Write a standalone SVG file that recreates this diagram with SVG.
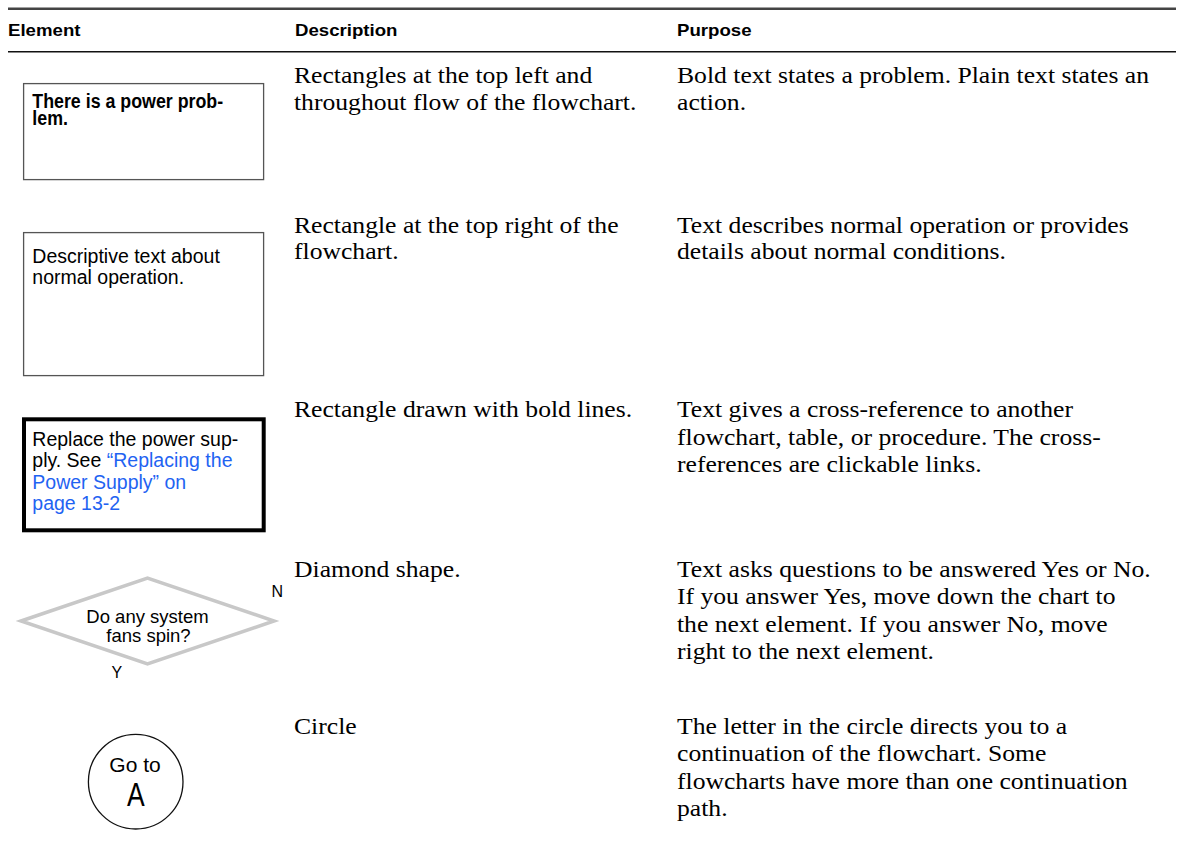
<svg xmlns="http://www.w3.org/2000/svg" width="1180" height="847" viewBox="0 0 1180 847">
<style>
.hd{font-family:"Liberation Sans",Arial,sans-serif;font-weight:bold;font-size:16.5px;fill:#000}
.bd{font-family:"Liberation Serif","Times New Roman",serif;font-size:22.5px;fill:#000}
.bx{font-family:"Liberation Sans",Arial,sans-serif;font-size:19.5px;fill:#000}
.bxb{font-family:"Liberation Sans",Arial,sans-serif;font-size:20px;font-weight:bold;fill:#000}
.lnk{fill:#1f63f2}
.rect{fill:#fff;stroke:#555;stroke-width:1.3}
.mid{text-anchor:middle}
</style>
<rect width="1180" height="847" fill="#fff"/>
<g id="rules">
<line x1="8" y1="8.7" x2="1176" y2="8.7" stroke="#444" stroke-width="2.5"/>
<line x1="8" y1="51.7" x2="1176" y2="51.7" stroke="#111" stroke-width="1.5"/>
</g>
<g id="header">
<text class="hd" transform="translate(8,36) scale(1.13,1)">Element</text>
<text class="hd" transform="translate(295,36) scale(1.13,1)">Description</text>
<text class="hd" transform="translate(677,36) scale(1.13,1)">Purpose</text>
</g>
<g id="row1-text">
<text class="bd" transform="translate(294,83) scale(1.14,1)"><tspan x="0" y="0">Rectangles at the top left and</tspan><tspan x="0" y="27.3">throughout flow of the flowchart.</tspan></text>
<text class="bd" transform="translate(677,83) scale(1.14,1)"><tspan x="0" y="0">Bold text states a problem. Plain text states an</tspan><tspan x="0" y="27.3">action.</tspan></text>
</g>
<g id="row2-text">
<text class="bd" transform="translate(294,232.5) scale(1.14,1)"><tspan x="0" y="0">Rectangle at the top right of the</tspan><tspan x="0" y="27">flowchart.</tspan></text>
<text class="bd" transform="translate(677,232.5) scale(1.14,1)"><tspan x="0" y="0">Text describes normal operation or provides</tspan><tspan x="0" y="27">details about normal conditions.</tspan></text>
</g>
<g id="row3-text">
<text class="bd" transform="translate(294,417) scale(1.14,1)">Rectangle drawn with bold lines.</text>
<text class="bd" transform="translate(677,417) scale(1.14,1)"><tspan x="0" y="0">Text gives a cross-reference to another</tspan><tspan x="0" y="27.6">flowchart, table, or procedure. The cross-</tspan><tspan x="0" y="55.2">references are clickable links.</tspan></text>
</g>
<g id="row4-text">
<text class="bd" transform="translate(294,576.7) scale(1.14,1)">Diamond shape.</text>
<text class="bd" transform="translate(677,576.7) scale(1.14,1)"><tspan x="0" y="0">Text asks questions to be answered Yes or No.</tspan><tspan x="0" y="27.6">If you answer Yes, move down the chart to</tspan><tspan x="0" y="55.2">the next element. If you answer No, move</tspan><tspan x="0" y="82.8">right to the next element.</tspan></text>
</g>
<g id="row5-text">
<text class="bd" transform="translate(294,734) scale(1.14,1)">Circle</text>
<text class="bd" transform="translate(677,734) scale(1.14,1)"><tspan x="0" y="0">The letter in the circle directs you to a</tspan><tspan x="0" y="27.5">continuation of the flowchart. Some</tspan><tspan x="0" y="55">flowcharts have more than one continuation</tspan><tspan x="0" y="82.5">path.</tspan></text>
</g>
<g id="node-problem">
<rect class="rect" x="23.6" y="83.6" width="240" height="96"/>
<text class="bxb" transform="translate(32.3,108.3) scale(0.89,1)"><tspan x="0" y="0">There is a power prob-</tspan><tspan x="0" y="17">lem.</tspan></text>
</g>
<g id="node-normal">
<rect class="rect" x="23.6" y="232.6" width="240" height="143"/>
<text class="bx"><tspan x="32.3" y="263.3">Descriptive text about</tspan><tspan x="32.3" y="284.3">normal operation.</tspan></text>
</g>
<g id="node-crossref">
<rect x="24" y="419.3" width="239.7" height="111" fill="#fff" stroke="#000" stroke-width="4"/>
<text class="bx"><tspan x="32.3" y="445.7">Replace the power sup-</tspan><tspan x="32.3" y="466.9">ply. See <tspan class="lnk">“Replacing the</tspan></tspan><tspan class="lnk" x="32.3" y="488.6">Power Supply” on</tspan><tspan class="lnk" x="32.3" y="510">page 13-2</tspan></text>
</g>
<g id="node-decision">
<polygon points="21,621 147.5,578 274,621 147.5,664" fill="#fff" stroke="#c8c8c8" stroke-width="3.5"/>
<text class="bx mid" style="font-size:18.5px"><tspan x="147.5" y="622.7">Do any system</tspan><tspan x="148.5" y="641.7">fans spin?</tspan></text>
<text class="bx" style="font-size:16px" x="271.5" y="597.3">N</text>
<text class="bx" style="font-size:16px" x="111.5" y="678.3">Y</text>
</g>
<g id="node-goto">
<circle cx="135.7" cy="781.7" r="47.3" fill="#fff" stroke="#111" stroke-width="1.3"/>
<text class="bx mid" style="font-size:21px" x="135" y="771.7">Go to</text>
<text class="bx mid" style="font-size:34px" transform="translate(135.8,805.7) scale(0.78,1)">A</text>
</g>
</svg>
